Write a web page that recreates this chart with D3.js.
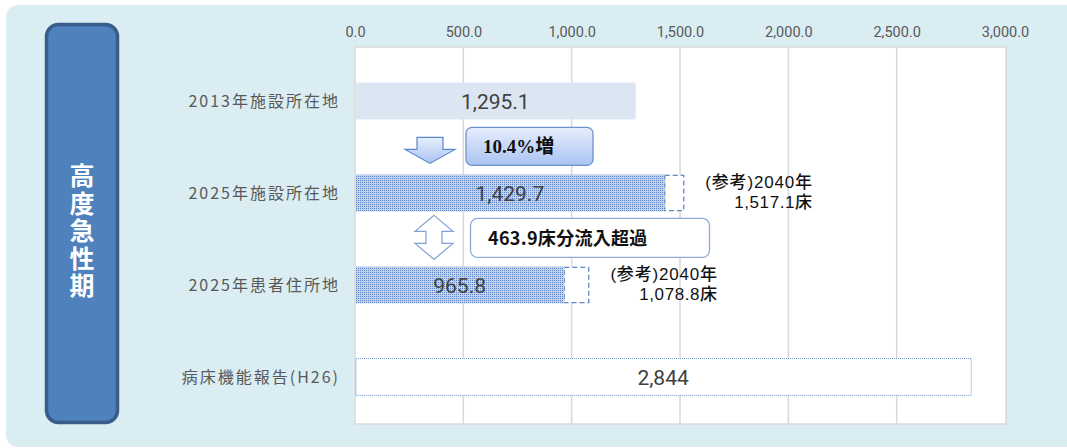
<!DOCTYPE html>
<html><head><meta charset="utf-8">
<script src="https://cdn.jsdelivr.net/npm/d3@7"></script>
<style>body{margin:0;background:#fff;}svg{display:block;font-family:"Noto Sans CJK JP","Noto Sans",sans-serif;}</style>
</head><body>
<script>
const categories = ["2013年施設所在地","2025年施設所在地","2025年患者住所地","病床機能報告(H26)"];
const values = [1295.1, 1429.7, 965.8, 2844];
const valueLabels = ["1,295.1","1,429.7","965.8","2,844"];
const ref2040 = [null, 1517.1, 1078.8, null];
const ref2040Labels = [null, "1,517.1床", "1,078.8床", null];
const refTitle = "(参考)2040年";
const tickValues = [0,500,1000,1500,2000,2500,3000];
const sideTitle = "高度急性期";
const increaseLabel = "10.4%増";
const inflowLabel = "463.9床分流入超過";

const W=1067,H=448;
const svg=d3.select("body").append("svg").attr("width",W).attr("height",H);
const defs=svg.append("defs");
const pat=defs.append("pattern").attr("id","chk").attr("width",2).attr("height",2).attr("patternUnits","userSpaceOnUse");
pat.append("rect").attr("width",2).attr("height",2).attr("fill","#c3d3ee").attr("shape-rendering","crispEdges");
pat.append("rect").attr("width",1).attr("height",1).attr("fill","#5a82c4").attr("shape-rendering","crispEdges");
const g1=defs.append("linearGradient").attr("id","gbox").attr("x1",0).attr("y1",0).attr("x2",0).attr("y2",1);
g1.append("stop").attr("offset","0%").attr("stop-color","#e6eefc");
g1.append("stop").attr("offset","100%").attr("stop-color","#a9c3f2");

// panel
svg.append("rect").attr("x",6).attr("y",5).attr("width",1075).attr("height",442).attr("rx",12).attr("fill","#daedf3");

// side box
svg.append("rect").attr("x",46.5).attr("y",24.5).attr("width",71).attr("height",398).attr("rx",12)
  .attr("fill","#4f81bd").attr("stroke","#385d8a").attr("stroke-width",3.5);
svg.append("text").attr("x",82).attr("y",163)
  .style("writing-mode","vertical-rl").attr("letter-spacing",2.5)
  .attr("font-size",25).attr("font-weight","bold").attr("fill","#fff").text(sideTitle);

const x=d3.scaleLinear().domain([0,3000]).range([355,1005]);
const y=d3.scaleBand().domain(categories).range([55,423]).paddingInner(0.6).paddingOuter(0.3);

// plot area
svg.append("rect").attr("x",355).attr("y",47).attr("width",651).attr("height",377)
  .attr("fill","#fff").attr("stroke","#d9d9d9").attr("stroke-width",1.5);

// grid
svg.append("g").selectAll("line").data(tickValues.slice(1,-1)).join("line")
  .attr("x1",d=>x(d)).attr("x2",d=>x(d)).attr("y1",47).attr("y2",424)
  .attr("stroke","#d9d9d9").attr("stroke-width",1.5);

// top axis
const ax=svg.append("g").attr("transform","translate(0,40)")
  .call(d3.axisTop(x).tickValues(tickValues).tickSize(0).tickFormat(d3.format(",.1f")));
ax.select(".domain").remove();
ax.selectAll("text").attr("font-size",14.5).attr("fill","#595959").attr("font-family","Roboto, 'Noto Sans', sans-serif");

// category labels
svg.append("g").selectAll("text").data(categories).join("text")
  .attr("x",340).attr("y",d=>y(d)+y.bandwidth()/2+6).attr("text-anchor","end")
  .attr("font-size",16).attr("letter-spacing",2).attr("fill","#595959").text(d=>d);

const fills=["#dce6f2","url(#chk)","url(#chk)","#ffffff"];
// reference extensions
svg.append("g").selectAll("rect").data(categories.map((c,i)=>({c,v:values[i],r:ref2040[i]})).filter(d=>d.r!=null)).join("rect")
  .attr("x",d=>x(d.v)).attr("y",d=>y(d.c)+0.75).attr("width",d=>x(d.r)-x(d.v)).attr("height",y.bandwidth()-1.5)
  .attr("fill","#fff").attr("stroke","#5f87c6").attr("stroke-width",1.3).attr("stroke-dasharray","5,3");

// bars
svg.append("g").selectAll("rect").data(categories).join("rect")
  .attr("x",x(0)+1).attr("y",d=>y(d)).attr("width",(d,i)=>x(values[i])-x(0)-1).attr("height",y.bandwidth())
  .attr("fill",(d,i)=>fills[i])
  .attr("stroke",(d,i)=>i===3?"#6f94cf":"none").attr("stroke-dasharray",(d,i)=>i===3?"1,1":null).attr("stroke-width",1);

// value labels
svg.append("g").selectAll("text").data(categories).join("text")
  .attr("x",(d,i)=>(x(0)+x(values[i]))/2).attr("y",d=>y(d)+y.bandwidth()/2+7.5)
  .attr("text-anchor","middle").attr("font-size",21).attr("fill","#404040")
  .attr("font-family","Roboto, 'Noto Sans', sans-serif").text((d,i)=>valueLabels[i]);

// reference annotations
categories.forEach((c,i)=>{
  if(ref2040[i]==null) return;
  const xr=x(ref2040[i])+129;
  svg.append("text").attr("x",xr).attr("y",y(c)+13).attr("text-anchor","end").attr("font-size",17)
    .attr("font-family","'Liberation Sans','Noto Sans CJK JP',sans-serif")
    .attr("letter-spacing",0.8).attr("font-weight",500).attr("fill","#111").text(refTitle);
  svg.append("text").attr("x",xr).attr("y",y(c)+33).attr("text-anchor","end").attr("font-size",17)
    .attr("font-family","'Liberation Sans','Noto Sans CJK JP',sans-serif")
    .attr("letter-spacing",0.6).attr("font-weight",500).attr("fill","#111").text(ref2040Labels[i]);
});

// down arrow between bar 1 and 2
const b1=y(categories[0])+y.bandwidth();
const ax0=430;
const downPts=[[ax0-13,b1+18],[ax0+13,b1+18],[ax0+13,b1+30],[ax0+25,b1+30],[ax0,b1+44],[ax0-25,b1+30],[ax0-13,b1+30]];
svg.append("path").attr("d",d3.line()(downPts)+"Z").attr("fill","url(#gbox)").attr("stroke","#5b87c9").attr("stroke-width",1.2);
svg.append("rect").attr("x",466).attr("y",b1+8).attr("width",127).attr("height",38).attr("rx",6)
  .attr("fill","url(#gbox)").attr("stroke","#6d93cc").attr("stroke-width",1.3);
svg.append("text").attr("x",483).attr("y",b1+34).attr("font-size",19).attr("font-weight","bold")
  .attr("font-family","'Liberation Serif','Noto Sans CJK JP',serif").attr("fill","#111").text(increaseLabel);

// up-down arrow between bar 2 and 3
const b2e=y(categories[1])+y.bandwidth();
const ux=434;
const udPts=[[ux,b2e+4],[ux+19,b2e+20],[ux+8,b2e+20],[ux+8,b2e+32],[ux+19,b2e+32],[ux,b2e+48],[ux-19,b2e+32],[ux-8,b2e+32],[ux-8,b2e+20],[ux-19,b2e+20]];
svg.append("path").attr("d",d3.line()(udPts)+"Z").attr("fill","#fff").attr("stroke","#7ea0d6").attr("stroke-width",1.2);
svg.append("rect").attr("x",470.5).attr("y",b2e+7).attr("width",239).attr("height",39).attr("rx",7)
  .attr("fill","#fff").attr("stroke","#8eaadb").attr("stroke-width",1.3);
svg.append("text").attr("x",488).attr("y",b2e+34).attr("font-size",18).attr("font-weight","bold")
  .attr("letter-spacing",0.3).attr("fill","#111").text(inflowLabel);
</script>
</body></html>
